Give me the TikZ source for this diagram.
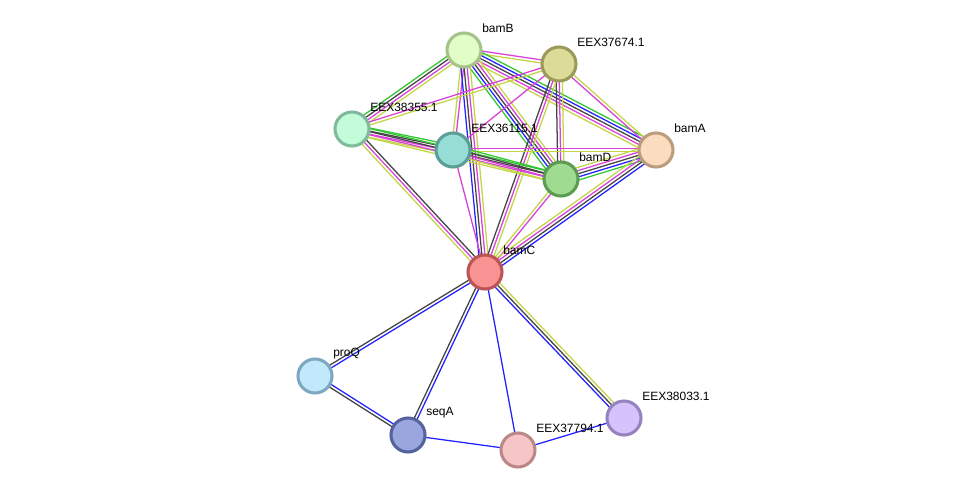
\documentclass[tikz,border=0pt]{standalone}
\usepackage{fontspec}
\setmainfont{Liberation Sans}
\usetikzlibrary{calc}
\pgfdeclarelayer{background}
\pgfsetlayers{background,main}
\definecolor{cgreen}{HTML}{33C633}
\definecolor{cblue}{HTML}{2222FF}
\definecolor{cblack}{HTML}{444444}
\definecolor{cmag}{HTML}{D93FD9}
\definecolor{cyel}{HTML}{C4D545}
\tikzset{
  prot/.style={circle, minimum size=25.5pt, inner sep=0pt, line width=2.3pt},
  lbl/.style={anchor=west, inner sep=0pt, font=\fontsize{9}{10}\selectfont},
  edgeline/.style={line width=0.95pt},
}
\newcommand\sedge[4]{%
  \foreach \cc [count=\ii] in {#4} {%
    \pgfmathsetmacro\off{(\ii-(#3+1)/2)*2.3}%
    \draw[edgeline,\cc] ($(#1.center)!\off pt!90:(#2.center)$) -- ($(#2.center)!\off pt!-90:(#1.center)$);
  }%
}
\begin{document}
\begin{tikzpicture}[x=0.75pt,y=-0.75pt]
\useasboundingbox (0,0) rectangle (975,496);
\node[prot, fill={rgb,255:red,226;green,253;blue,198}, draw={rgb,255:red,166;green,196;blue,138}] (bamB) at (464,50) {};
\node[prot, fill={rgb,255:red,220;green,219;blue,152}, draw={rgb,255:red,156;green,154;blue,90}] (e74) at (559,64) {};
\node[prot, fill={rgb,255:red,194;green,252;blue,217}, draw={rgb,255:red,127;green,186;blue,154}] (e55) at (352,129) {};
\node[prot, fill={rgb,255:red,150;green,221;blue,214}, draw={rgb,255:red,90;green,158;blue,150}] (e15) at (453,150) {};
\node[prot, fill={rgb,255:red,159;green,220;blue,145}, draw={rgb,255:red,90;green,156;blue,80}] (bamD) at (561,179) {};
\node[prot, fill={rgb,255:red,252;green,220;blue,190}, draw={rgb,255:red,187;green,156;blue,124}] (bamA) at (656,150) {};
\node[prot, fill={rgb,255:red,249;green,147;blue,147}, draw={rgb,255:red,187;green,85;blue,85}] (bamC) at (485,272) {};
\node[prot, fill={rgb,255:red,193;green,233;blue,251}, draw={rgb,255:red,127;green,168;blue,192}] (proQ) at (315,376) {};
\node[prot, fill={rgb,255:red,154;green,166;blue,222}, draw={rgb,255:red,85;green,98;blue,158}] (seqA) at (408,435) {};
\node[prot, fill={rgb,255:red,246;green,198;blue,198}, draw={rgb,255:red,187;green,136;blue,136}] (e94) at (518,450) {};
\node[prot, fill={rgb,255:red,214;green,195;blue,251}, draw={rgb,255:red,151;green,130;blue,192}] (e33) at (624,418) {};
\foreach \n/\t in {bamB/bamB, e74/EEX37674.1, e55/EEX38355.1, e15/EEX36115.1, bamD/bamD, bamA/bamA, bamC/bamC, proQ/proQ, seqA/seqA, e94/EEX37794.1, e33/EEX38033.1}
  \node[lbl] (l-\n) at ($(\n.center)+(18,-22)$) {\t};
\begin{pgfonlayer}{background}
\fill[white] (0,0) rectangle (975,496);
\sedge{bamB}{e55}{4}{cgreen,cblack,cmag,cyel}
\sedge{bamB}{e74}{2}{cyel,cmag}
\sedge{bamB}{bamA}{5}{cyel,cmag,cblack,cblue,cgreen}
\sedge{bamB}{bamD}{5}{cgreen,cblue,cblack,cmag,cyel}
\sedge{bamB}{e15}{2}{cyel,cmag}
\sedge{bamB}{bamC}{4}{cblue,cblack,cmag,cyel}
\sedge{e74}{e55}{2}{cmag,cyel}
\sedge{e74}{e15}{1}{cmag}
\sedge{e74}{bamA}{2}{cmag,cyel}
\sedge{e74}{bamD}{3}{cblack,cmag,cyel}
\sedge{e74}{bamC}{3}{cblack,cmag,cyel}
\sedge{e55}{e15}{4}{cyel,cmag,cblack,cgreen}
\sedge{e55}{bamD}{4}{cyel,cmag,cblack,cgreen}
\sedge{e55}{bamC}{3}{cyel,cmag,cblack}
\sedge{e15}{bamA}{2}{cyel,cmag}
\sedge{e15}{bamD}{4}{cyel,cmag,cblack,cgreen}
\sedge{e15}{bamC}{1}{cmag}
\sedge{bamD}{bamA}{5}{cgreen,cblue,cblack,cmag,cyel}
\sedge{bamD}{bamC}{2}{cyel,cmag}
\sedge{bamA}{bamC}{4}{cyel,cmag,cblack,cblue}
\sedge{bamC}{proQ}{2}{cblack,cblue}
\sedge{bamC}{seqA}{2}{cblack,cblue}
\sedge{bamC}{e94}{1}{cblue}
\sedge{bamC}{e33}{3}{cblue,cblack,cyel}
\sedge{proQ}{seqA}{2}{cblack,cblue}
\sedge{seqA}{e94}{1}{cblue}
\sedge{e94}{e33}{1}{cblue}
\end{pgfonlayer}
\end{tikzpicture}
\end{document}
